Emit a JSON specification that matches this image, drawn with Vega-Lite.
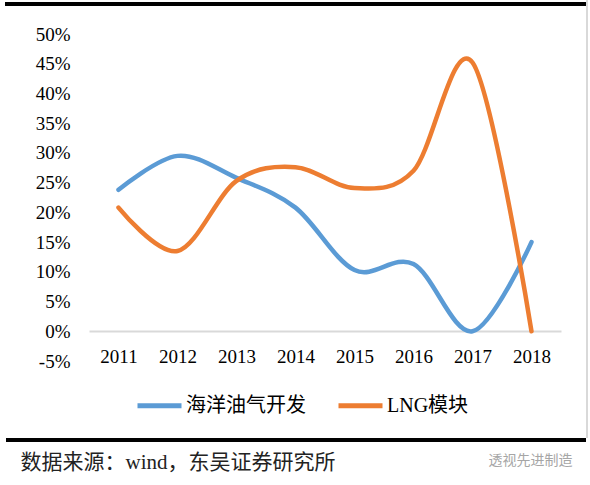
{
  "$schema": "https://vega.github.io/schema/vega-lite/v6.json",
  "width": 472,
  "height": 327,
  "autosize": {"type": "none"},
  "padding": {"left": 89, "top": 34, "right": 29, "bottom": 124},
  "background": "white",
  "config": {
    "view": {"stroke": null},
    "font": "Liberation Serif, Noto Sans CJK SC"
  },
  "data": {
    "values": [
      {"year": "2011", "series": "海洋油气开发", "value": 23.8},
      {"year": "2012", "series": "海洋油气开发", "value": 29.5},
      {"year": "2013", "series": "海洋油气开发", "value": 25.8},
      {"year": "2014", "series": "海洋油气开发", "value": 20.8},
      {"year": "2015", "series": "海洋油气开发", "value": 10.3},
      {"year": "2016", "series": "海洋油气开发", "value": 11.3},
      {"year": "2017", "series": "海洋油气开发", "value": 0},
      {"year": "2018", "series": "海洋油气开发", "value": 15},
      {"year": "2011", "series": "LNG模块", "value": 20.8},
      {"year": "2012", "series": "LNG模块", "value": 13.5},
      {"year": "2013", "series": "LNG模块", "value": 25.3},
      {"year": "2014", "series": "LNG模块", "value": 27.6},
      {"year": "2015", "series": "LNG模块", "value": 24.1},
      {"year": "2016", "series": "LNG模块", "value": 27},
      {"year": "2017", "series": "LNG模块", "value": 45.2},
      {"year": "2018", "series": "LNG模块", "value": 0}
    ]
  },
  "layer": [
    {
      "mark": {"type": "rule", "color": "black", "strokeWidth": 3},
      "encoding": {
        "y": {"value": -30},
        "x": {"value": -84},
        "x2": {"value": 499}
      }
    },
    {
      "mark": {"type": "rule", "color": "black", "strokeWidth": 2.5},
      "encoding": {
        "y": {"value": 406},
        "x": {"value": -83},
        "x2": {"value": 497}
      }
    },
    {
      "mark": {"type": "rule", "color": "#D9D9D9", "strokeWidth": 2},
      "encoding": {
        "x": {"value": 498},
        "y": {"value": -34},
        "y2": {"value": 404}
      }
    },
    {
      "mark": {"type": "line", "interpolate": "cardinal", "strokeWidth": 4.5, "strokeCap": "round", "strokeJoin": "round"},
      "encoding": {
        "x": {
          "field": "year",
          "type": "ordinal",
          "scale": {"type": "point", "padding": 0.5},
          "axis": {
            "orient": "bottom",
            "offset": -30,
            "domainColor": "#D9D9D9",
            "domainWidth": 2,
            "ticks": false,
            "labelAngle": 0,
            "labelFontSize": 19,
            "labelColor": "black",
            "labelPadding": 16,
            "title": "数据来源：wind，东吴证券研究所",
            "titleX": -69,
            "titleY": 131,
            "titleAlign": "left",
            "titleBaseline": "middle",
            "titleFontSize": 21,
            "titleFontWeight": "normal",
            "titleColor": "#222222",
            "titleFont": "Liberation Serif, Noto Sans CJK SC"
          }
        },
        "y": {
          "field": "value",
          "type": "quantitative",
          "scale": {"domain": [-5, 50], "nice": false, "zero": false},
          "axis": {
            "values": [-5, 0, 5, 10, 15, 20, 25, 30, 35, 40, 45, 50],
            "labelExpr": "datum.value + '%'",
            "domain": false,
            "ticks": false,
            "grid": false,
            "labelFontSize": 19,
            "labelColor": "black",
            "labelPadding": 19,
            "title": "透视先进制造",
            "titleAngle": 0,
            "titleX": 399,
            "titleY": 426,
            "titleAlign": "left",
            "titleBaseline": "middle",
            "titleFontSize": 14,
            "titleFontWeight": "normal",
            "titleColor": "#A6A6A6",
            "titleFont": "Noto Sans CJK SC"
          }
        },
        "color": {
          "field": "series",
          "type": "nominal",
          "scale": {"domain": ["海洋油气开发", "LNG模块"], "range": ["#5B9BD5", "#ED7D31"]},
          "legend": {
            "title": null,
            "orient": "none",
            "direction": "horizontal",
            "legendX": 46,
            "legendY": 347,
            "padding": 0,
            "symbolType": "stroke",
            "symbolSize": 1936,
            "symbolStrokeWidth": 5,
            "labelFontSize": 20,
            "labelColor": "black",
            "labelOffset": 2,
            "columnPadding": 22
          }
        }
      }
    }
  ]
}
